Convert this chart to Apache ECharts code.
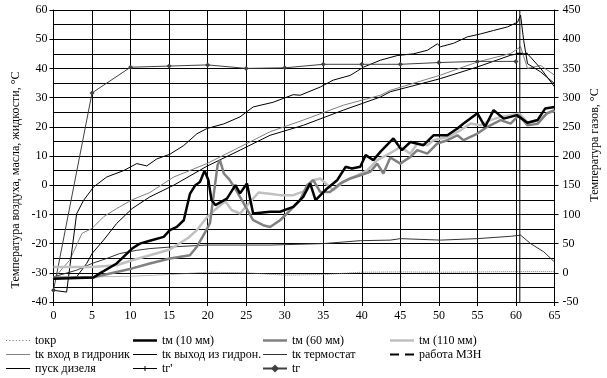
<!DOCTYPE html>
<html>
<head>
<meta charset="utf-8">
<script src="https://cdn.jsdelivr.net/npm/echarts@6/dist/echarts.min.js"></script>
<style>
  html, body { margin: 0; padding: 0; background: #fff; }
  #main { width: 607px; height: 378px; }
</style>
</head>
<body>
<div id="main"></div>
<script>
// values: time (min) and temperature
const okrX = [0, 5, 10, 15, 20, 25, 30, 35, 40, 45, 50, 55, 60, 65];
const okrV = [-31.5, -31.4, -31.2, -30.6, -29.8, -30, -30.8, -30.6, -29.8, -29.7, -29.8, -29.7, -29.6, -29.6];

const m10X = [0, 5.2, 6, 8.2, 10.2, 11.2, 12.5, 14.3, 15.1, 16, 16.9, 17.7, 18.4, 19, 19.6, 20.1, 20.5, 21, 22.5, 23.6, 24.2, 25.1, 25.9, 28.1, 29.4, 31.1, 32.4, 33.3, 34, 35.5, 36.8, 37.9, 38.7, 39.8, 40.5, 41.5, 42.4, 44.1, 45.2, 46.3, 48, 49.3, 51.1, 52.4, 53.2, 55, 56, 57.1, 58.4, 59.3, 60.1, 61.5, 62.8, 63.8, 65];
const m10V = [-32, -31.6, -30.2, -26.8, -21.7, -20, -19, -17.7, -15.4, -14.3, -12, -3, 0, 1.1, 5, 1.7, -5.1, -6.8, -4.6, 0, -2.8, 0.6, -9.7, -9.1, -9.1, -7.4, -4, 0.6, -5.1, -1.1, 1.7, 6.3, 5.7, 6.3, 10.3, 8.6, 11.4, 16, 12, 14.8, 13.7, 17.1, 17.1, 19.4, 21.1, 24.6, 20, 25.7, 22.8, 23.4, 24, 21.4, 22.3, 26.3, 26.8];

const m60X = [0, 5, 8.2, 10.2, 12.5, 15.1, 17.7, 18.6, 19.7, 20.3, 20.8, 21.3, 21.6, 22.1, 22.8, 23.7, 24.7, 25.9, 27.2, 28.1, 29.4, 30.7, 32, 32.9, 33.7, 34.6, 35.9, 37.2, 38.5, 39.8, 41.1, 42, 42.8, 43.7, 45, 46.3, 47.2, 48.5, 49.8, 51.1, 52.4, 53.2, 55, 56.3, 58, 59.3, 60.4, 61.5, 62.8, 64, 65];
const m60V = [-31.6, -31.6, -29.7, -28.5, -26.8, -25.1, -24, -21.1, -16, -13, -3, 7, 8.6, 4, 2, -1.7, -6.3, -12, -13.7, -14.3, -12, -8.6, -5.1, 0, 1.7, -2.3, -2.3, 0.6, 2.3, 3.4, 4.6, 7.4, 4, 9.5, 7.4, 9.7, 12, 10.8, 14.3, 15.4, 17.1, 15.4, 17.7, 20, 22.3, 21.1, 24, 20.5, 21, 24.6, 25.7];

const m110X = [0, 5, 8.2, 10.2, 12.5, 15.1, 17.5, 18.6, 19.9, 21, 22.3, 23.1, 24.2, 25.1, 26.6, 28.3, 29.4, 31.1, 32.9, 33.5, 34.6, 36.3, 37.6, 39.4, 40.7, 42, 43.7, 45, 46.3, 47.2, 48.5, 49.3, 51.1, 52.8, 54.1, 55.4, 56.7, 58, 59.3, 60.4, 61.5, 62.8, 64, 65];
const m110V = [-28, -28, -27.4, -25.7, -24, -22, -18, -15.4, -11, -8.3, -5.5, -8.5, -9.7, -7, -2.5, -3, -3.4, -3.4, -1.7, 1.5, 2.3, -1.7, 1.1, 3.4, 5.1, 8.6, 11, 13.1, 10.8, 14.3, 13.7, 15.4, 16.5, 18.8, 21.1, 20.5, 22.3, 23.4, 24, 24.5, 21.5, 22, 24.5, 25.5];

const inX = [0, 2.1, 3.7, 5, 6.5, 8.2, 10.2, 12.5, 15.6, 19.9, 24.2, 28.1, 32.4, 37.6, 42.4, 43.7, 50.2, 55, 59.3, 60.6, 61.5, 63.2, 65];
const inV = [-32, -25.7, -16.5, -14.8, -10.8, -8, -5, -2.5, 2.8, 7.4, 13.1, 18.3, 22.3, 27.4, 30.8, 32.5, 37.7, 42.2, 45.1, 47.4, 40, 41, 37.7];

const outX = [0, 3, 4.3, 5, 6.5, 8.2, 10.2, 12.5, 15.6, 19.9, 24.2, 28.1, 32.4, 37.6, 42.4, 43.7, 50.2, 55, 59.3, 60.2, 61.5, 63.2, 65];
const outV = [-32, -31.4, -26.8, -23.4, -18.8, -13.1, -8, -4, 0, 6.5, 12, 17.1, 20.5, 25.7, 30.2, 32, 36.5, 40.5, 44.5, 45, 45, 40, 33.7];

const thX = [0, 3, 5, 6.9, 8.6, 10.8, 12.5, 15.6, 19.9, 24.2, 28.1, 35, 39.8, 43.7, 45, 50.2, 55, 59.3, 60.6, 61.9, 63.6, 65];
const thV = [-31.4, -29.1, -26.8, -25.1, -23.4, -22.3, -21.7, -21.1, -20.5, -20.5, -20.5, -20, -19, -18.8, -18.3, -18.8, -18.3, -17.5, -17.1, -20, -22.8, -26.3];

const mznX = [60, 61.5];
const mznV = [45, 45];

const dieselX = [60.5, 60.5];
const dieselV = [-40, 60];

// gas temperatures (right axis)
const gas1X = [0, 1.7, 3, 3.9, 5.2, 6.9, 9.1, 10.8, 12.1, 13.4, 15.1, 16.9, 18.6, 19.9, 22.1, 24.2, 25.9, 28.5, 31.1, 32, 34.6, 36.3, 38.5, 40.2, 42.4, 44.6, 46.7, 48.5, 49.8, 50.2, 51.9, 53.7, 55.4, 57.1, 58.9, 60.2, 60.6, 61, 61.5, 63.2, 65];
const gas1V = [-30, -33, 101, 124, 147, 164, 175, 187, 183, 195, 203, 218, 238, 247, 255, 267, 284, 292, 305, 304, 318, 330, 338, 352, 364, 372, 375, 381, 392, 387, 393, 404, 409, 415, 421, 429, 441, 398, 358, 344, 324];

const gasX = [0, 5, 10, 15, 20, 25, 30, 35, 40, 45, 50, 55, 60];
const gasV = [-30, 308, 352, 354, 356, 350, 351, 357, 357, 357, 360, 362, 362];

const xTicks = { min: 0, max: 65, step: 5 };
const leftTicks = { min: -40, max: 60, step: 10 };
const rightTicks = { min: -50, max: 450, step: 50 };

function pts(xs, ys) {
  return xs.map((x, i) => [x, ys[i]]);
}

const serif = 'Liberation Serif';

// legend icons: plain line pieces (line series would otherwise add a circle)
const thinIcon = 'path://M0,0h24v1h-24z';
const thickIcon = 'path://M0,0h24v2.5h-24z';
let dots = '';
for (let i = 0; i < 24; i += 3) dots += 'M' + i + ',0h1v1h-1z';
const dotIcon = 'path://' + dots;
const dashIcon = 'path://M0,0h9v2h-9zM15,0h9v2h-9z';
const tickIcon = 'path://M0,2h24v1h-24zM11.5,0h1v5h-1z';

function lineSeries(name, xs, ys, color, width, extra) {
  return Object.assign({
    name: name,
    type: 'line',
    data: pts(xs, ys),
    symbol: 'none',
    smooth: false,
    animation: false,
    lineStyle: { color: color, width: width },
    itemStyle: { color: color }
  }, extra || {});
}

var chart = echarts.init(document.getElementById('main'), null, { renderer: 'canvas' });

const legendBase = {
  orient: 'vertical',
  top: 334.5,
  padding: 0,
  itemWidth: 24,
  itemHeight: 10,
  itemGap: 2,
  textStyle: { fontFamily: serif, fontSize: 12, lineHeight: 12, color: '#000', padding: [0, 0, 0, 0] },
  selectedMode: false
};

const option = {
  animation: false,
  grid: { left: 53.5, right: 52.5, top: 10, bottom: 76, containLabel: false },
  legend: [
    Object.assign({ left: 6, data: [
      { name: 'tокр', icon: dotIcon },
      { name: 'tк вход в гидроник', icon: thinIcon },
      { name: 'пуск дизеля', icon: thinIcon }
    ] }, legendBase),
    Object.assign({ left: 133, data: [
      { name: 'tм (10 мм)', icon: thickIcon },
      { name: 'tк выход из гидрон.', icon: thinIcon },
      { name: "tг'", icon: tickIcon }
    ] }, legendBase),
    Object.assign({ left: 262, data: [
      { name: 'tм (60 мм)', icon: thickIcon },
      { name: 'tк термостат', icon: thinIcon },
      { name: 'tг' }
    ] }, legendBase),
    Object.assign({ left: 390, data: [
      { name: 'tм (110 мм)', icon: thickIcon },
      { name: 'работа МЗН', icon: dashIcon }
    ] }, legendBase)
  ],
  xAxis: {
    type: 'value',
    min: xTicks.min, max: xTicks.max, interval: xTicks.step,
    axisLine: { show: true, onZero: false, lineStyle: { color: '#000' } },
    axisTick: { show: true, length: 4, lineStyle: { color: '#000' } },
    axisLabel: { fontFamily: serif, fontSize: 12, color: '#000', margin: 8 },
    splitLine: { show: true, lineStyle: { color: '#000', width: 1 } }
  },
  yAxis: [
    {
      type: 'value',
      min: leftTicks.min, max: leftTicks.max, interval: leftTicks.step,
      axisLine: { show: true, lineStyle: { color: '#000' } },
      axisTick: { show: true, length: 4, lineStyle: { color: '#000' } },
      axisLabel: { fontFamily: serif, fontSize: 12, color: '#000', margin: 6 },
      splitLine: { show: true, lineStyle: { color: '#000', width: 1 } },
      minorTick: { show: false, splitNumber: 2 },
      minorSplitLine: { show: true, lineStyle: { color: '#000', width: 1 } }
    },
    {
      type: 'value',
      position: 'right',
      min: rightTicks.min, max: rightTicks.max, interval: rightTicks.step,
      axisLine: { show: true, lineStyle: { color: '#000' } },
      axisTick: { show: true, length: 4, lineStyle: { color: '#000' } },
      axisLabel: { fontFamily: serif, fontSize: 12, color: '#000', margin: 8 },
      splitLine: { show: false }
    }
  ],
  graphic: [
    {
      type: 'text', x: 16, y: 180, rotation: Math.PI / 2,
      style: { text: 'Температура воздуха, масла, жидкости, °С', font: '12px "Liberation Serif"', fill: '#000', align: 'center', verticalAlign: 'middle' }
    },
    {
      type: 'text', x: 595, y: 145, rotation: Math.PI / 2,
      style: { text: 'Температура газов, °С', font: '12px "Liberation Serif"', fill: '#000', align: 'center', verticalAlign: 'middle' }
    }
  ],
  series: [
    lineSeries('tокр', okrX, okrV, '#777', 1, { lineStyle: { color: '#777', width: 1, type: 'dotted' } }),
    lineSeries('tк термостат', thX, thV, '#333', 1),
    lineSeries('tк вход в гидроник', inX, inV, '#808080', 1),
    lineSeries('tк выход из гидрон.', outX, outV, '#000', 1),
    lineSeries("tг'", gas1X, gas1V, '#000', 1, { yAxisIndex: 1 }),
    lineSeries('tг', gasX, gasV, '#404040', 1, { yAxisIndex: 1, symbol: 'diamond', symbolSize: 5, showSymbol: true }),
    lineSeries('пуск дизеля', dieselX, dieselV, '#000', 1),
    lineSeries('работа МЗН', mznX, mznV, '#000', 2, { lineStyle: { color: '#000', width: 2, type: [6, 4] } }),
    lineSeries('tм (110 мм)', m110X, m110V, '#c0c0c0', 2.5),
    lineSeries('tм (60 мм)', m60X, m60V, '#808080', 2.5),
    lineSeries('tм (10 мм)', m10X, m10V, '#000', 2.5)
  ]
};

chart.setOption(option);
</script>
</body>
</html>
